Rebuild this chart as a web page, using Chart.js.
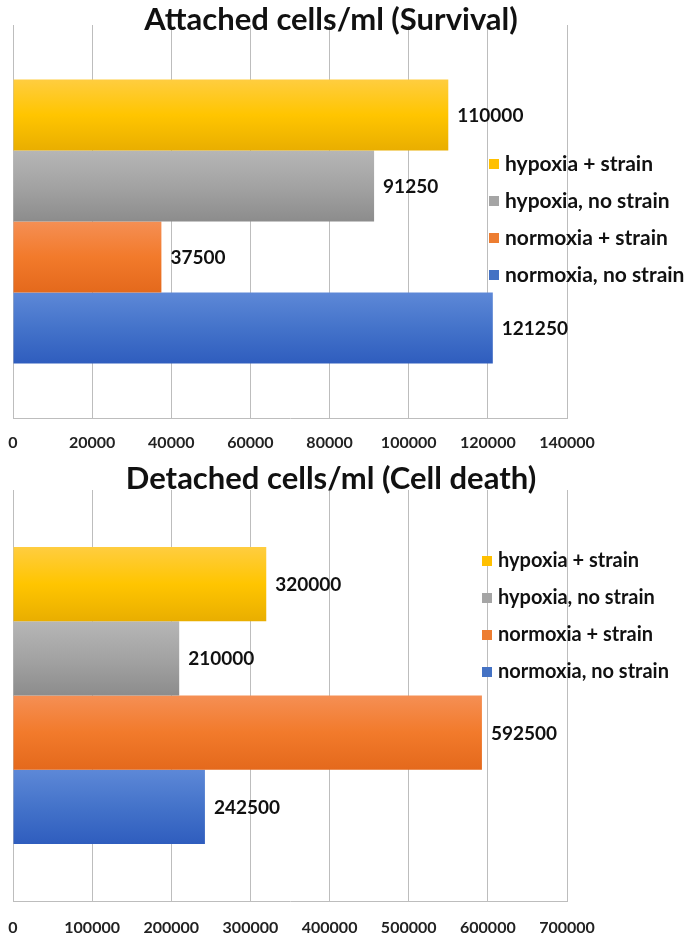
<!DOCTYPE html>
<html>
<head>
<meta charset="utf-8">
<script src="https://cdn.jsdelivr.net/npm/chart.js@4/dist/chart.umd.min.js"></script>
<style>
  html, body { margin: 0; padding: 0; background: #fff; }
  .wrap { position: absolute; left: 0; width: 685px; }
  #top { top: 0; height: 458px; }
  #bottom { top: 458px; height: 477px; }
</style>
</head>
<body>
<div class="wrap" id="top"><canvas id="attached"></canvas></div>
<div class="wrap" id="bottom"><canvas id="detached"></canvas></div>
<script>
// series, top to bottom as drawn
const seriesLabels = ['hypoxia + strain', 'hypoxia, no strain', 'normoxia + strain', 'normoxia, no strain'];
const attachedValues = [110000, 91250, 37500, 121250];
const detachedValues = [320000, 210000, 592500, 242500];

const attachedTitle = 'Attached cells/ml (Survival)';
const detachedTitle = 'Detached cells/ml (Cell death)';
const attachedMax = 140000, attachedStep = 20000;
const detachedMax = 700000, detachedStep = 100000;

const solidColors = ['#FFC000', '#A5A5A5', '#ED7D31', '#4472C4'];
const gradientStops = [
    ['#FFCD40', '#FFC500', '#E9AE00'],
    ['#B6B6B6', '#A3A3A3', '#8C8C8C'],
    ['#F58F54', '#F27A2B', '#E4691C'],
    ['#5D88D7', '#4473CA', '#2F5DBE'],
];

const FONT = 'Lato, "Open Sans", sans-serif';

// bars get a light-to-dark vertical fill, like the office chart
const barGradient = {
    id: 'barGradient',
    beforeDatasetsDraw(chart) {
        const ctx = chart.ctx;
        chart.data.datasets.forEach((ds, i) => {
            chart.getDatasetMeta(i).data.forEach(el => {
                const { y, height } = el.getProps(['y', 'height'], true);
                const g = ctx.createLinearGradient(0, y - height / 2, 0, y + height / 2);
                const stops = gradientStops[i];
                g.addColorStop(0, stops[0]);
                g.addColorStop(0.5, stops[1]);
                g.addColorStop(1, stops[2]);
                el.options = Object.assign({}, el.options, { backgroundColor: g });
            });
        });
    }
};

// title, value labels and the legend that sits over the grid
const decor = {
    id: 'decor',
    afterDatasetsDraw(chart, args, opts) {
        const ctx = chart.ctx;
        ctx.save();
        ctx.fillStyle = '#111';
        ctx.textBaseline = 'middle';

        ctx.font = 'bold 31px ' + FONT;
        ctx.textAlign = 'center';
        ctx.fillText(opts.title, opts.titleX, opts.titleY);

        ctx.font = 'bold 19px ' + FONT;
        ctx.textAlign = 'left';
        chart.data.datasets.forEach((ds, i) => {
            chart.getDatasetMeta(i).data.forEach((el, j) => {
                ctx.fillText(String(ds.data[j]), el.x + 9, el.y + 1);
            });
        });

        ctx.font = 'bold ' + opts.legendSize + 'px ' + FONT;
        chart.data.datasets.forEach((ds, i) => {
            const y = opts.legendY + i * opts.legendGap;
            ctx.fillStyle = solidColors[i];
            ctx.fillRect(opts.legendX, y - 5, 10, 10);
            ctx.fillStyle = '#111';
            ctx.fillText(ds.label, opts.legendX + 16, y);
        });
        ctx.restore();
    }
};

function makeChart(id, values, max, step, opts) {
    return new Chart(document.getElementById(id), {
        type: 'bar',
        data: {
            labels: [''],
            datasets: seriesLabels.map((label, i) => ({
                label: label,
                data: [values[i]],
                backgroundColor: solidColors[i],
                borderWidth: 0,
                categoryPercentage: 0.723,
                barPercentage: 1,
            })),
        },
        options: {
            indexAxis: 'y',
            responsive: true,
            maintainAspectRatio: false,
            animation: false,
            layout: { padding: { left: 13, right: 118, top: opts.top, bottom: 0 } },
            plugins: {
                legend: { display: false },
                title: { display: false },
                tooltip: { enabled: false },
                decor: opts,
            },
            scales: {
                x: {
                    min: 0,
                    max: max,
                    afterFit: s => {
                        s.height = opts.axisHeight;
                        s.paddingLeft = 0;
                        s.paddingRight = 0;
                    },
                    ticks: {
                        stepSize: step,
                        padding: opts.tickPad,
                        color: '#222',
                        font: { family: FONT, size: 16, weight: 'bold' },
                        callback: v => String(v),
                    },
                    grid: { color: '#BDBDBD', lineWidth: 1, drawTicks: false },
                    border: { display: true, color: '#BDBDBD', width: 1 },
                },
                y: { display: false },
            },
        },
        plugins: [barGradient, decor],
    });
}

makeChart('attached', attachedValues, attachedMax, attachedStep, {
    top: 25, axisHeight: 40, tickPad: 15,
    title: attachedTitle, titleX: 331, titleY: 20,
    legendX: 489, legendY: 164, legendGap: 37, legendSize: 21,
});

// legend rows in chart 2 are relative to its own canvas
makeChart('detached', detachedValues, detachedMax, detachedStep, {
    top: 32, axisHeight: 34, tickPad: 17,
    title: detachedTitle, titleX: 331, titleY: 21,
    legendX: 482, legendY: 103, legendGap: 37, legendSize: 20,
});
</script>
</body>
</html>
